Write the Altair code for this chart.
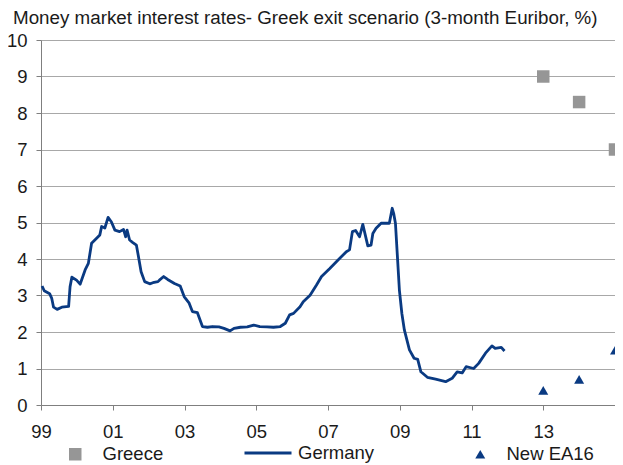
import altair as alt
import pandas as pd

title_text = "Money market interest rates- Greek exit scenario (3-month Euribor, %)"

# Germany 3-month rate (decimal year, %)
germany_t = [1999.03, 1999.09, 1999.24, 1999.30, 1999.35, 1999.45, 1999.58, 1999.77, 1999.81, 1999.86,
             1999.99, 2000.09, 2000.23, 2000.32, 2000.41, 2000.55, 2000.64, 2000.69, 2000.78, 2000.87,
             2000.96, 2001.06, 2001.19, 2001.30, 2001.36, 2001.40, 2001.47, 2001.56, 2001.66, 2001.70,
             2001.79, 2001.89, 2002.03, 2002.12, 2002.26, 2002.30, 2002.42, 2002.53, 2002.72, 2002.88,
             2002.99, 2003.13, 2003.22, 2003.36, 2003.50, 2003.64, 2003.78, 2003.96, 2004.10, 2004.27,
             2004.38, 2004.56, 2004.75, 2004.93, 2005.10, 2005.30, 2005.48, 2005.67, 2005.81, 2005.93,
             2006.04, 2006.22, 2006.31, 2006.50, 2006.68, 2006.82, 2007.05, 2007.28, 2007.51, 2007.60,
             2007.68, 2007.77, 2007.88, 2007.97, 2008.11, 2008.20, 2008.25, 2008.34, 2008.48, 2008.71,
             2008.79, 2008.83, 2008.88, 2008.99, 2009.06, 2009.13, 2009.27, 2009.40, 2009.50, 2009.59,
             2009.77, 2010.00, 2010.28, 2010.46, 2010.60, 2010.74, 2010.85, 2011.06, 2011.20, 2011.39,
             2011.57, 2011.66, 2011.83, 2011.92]
germany_v = [3.26, 3.13, 3.05, 2.92, 2.68, 2.62, 2.68, 2.70, 3.24, 3.50,
             3.42, 3.31, 3.70, 3.88, 4.43, 4.57, 4.66, 4.89, 4.85, 5.14,
             5.02, 4.79, 4.75, 4.81, 4.61, 4.79, 4.52, 4.45, 4.38, 4.16,
             3.65, 3.38, 3.32, 3.35, 3.38, 3.42, 3.52, 3.44, 3.33, 3.26,
             2.97, 2.79, 2.56, 2.53, 2.15, 2.13, 2.15, 2.14, 2.10, 2.03,
             2.10, 2.13, 2.14, 2.19, 2.15, 2.14, 2.13, 2.15, 2.24, 2.47,
             2.51, 2.69, 2.83, 3.01, 3.29, 3.52, 3.74, 3.97, 4.20, 4.25,
             4.75, 4.78, 4.61, 4.95, 4.36, 4.38, 4.70, 4.84, 4.98, 4.98,
             5.39, 5.25, 4.98, 3.15, 2.50, 2.05, 1.51, 1.28, 1.25, 0.91,
             0.76, 0.71, 0.64, 0.73, 0.91, 0.88, 1.05, 1.00, 1.14, 1.42,
             1.62, 1.55, 1.58, 1.48]

scenario_years = [2013, 2014, 2015]
greece_v = [9.0, 8.3, 7.0]
ea16_v = [0.4, 0.7, 1.5]

x_tick_values = [1999, 2001, 2003, 2005, 2007, 2009, 2011, 2013]
x_tick_labels = ["99", "01", "03", "05", "07", "09", "11", "13"]
y_tick_values = [0, 1, 2, 3, 4, 5, 6, 7, 8, 9, 10]

navy = "#0a3a82"
grey = "#969696"
font = "Liberation Sans"
fs = 18.5

label_expr = "''"
for v, l in reversed(list(zip(x_tick_values, x_tick_labels))):
    label_expr = f"datum.value == {v} ? '{l}' : ({label_expr})"

df_de = pd.DataFrame({"t": germany_t, "v": germany_v, "s": "Germany"})
df_gr = pd.DataFrame({"t": scenario_years, "v": greece_v, "s": "Greece"})
df_ea = pd.DataFrame({"t": scenario_years, "v": ea16_v, "s": "New EA16"})

x_axis = alt.Axis(values=x_tick_values, labelExpr=label_expr, grid=False, title=None,
                  tickSize=5, labelPadding=12, labelFontSize=fs, labelFont=font,
                  labelColor="#1a1a1a", domainColor="#7f7f7f", tickColor="#7f7f7f",
                  labelFlush=False, labelOverlap=False)
y_axis = alt.Axis(values=y_tick_values, tickCount=11, grid=True, gridColor="#a8a8a8", title=None,
                  tickSize=5, labelPadding=9, labelFontSize=fs, labelFont=font,
                  labelColor="#1a1a1a", domainColor="#7f7f7f", tickColor="#7f7f7f",
                  labelFlush=False, labelOverlap=False)
x_scale = alt.Scale(domain=[1999, 2015], nice=False, zero=False)
y_scale = alt.Scale(domain=[0, 10], nice=False)


def xe():
    return alt.X("t:Q", scale=x_scale, axis=x_axis)


def ye():
    return alt.Y("v:Q", scale=y_scale, axis=y_axis)


leg_common = dict(title=None, orient="none", labelFontSize=fs, labelFont=font,
                  labelColor="#1a1a1a", padding=0)

line = alt.Chart(df_de).mark_line(strokeWidth=2.8, strokeJoin="round").encode(
    x=xe(), y=ye(),
    stroke=alt.Stroke("s:N", scale=alt.Scale(domain=["Germany"], range=[navy]),
                      legend=alt.Legend(legendX=202, legendY=388,
                                        symbolType="stroke", symbolSize=2209, symbolStrokeWidth=2.8,
                                        labelOffset=5, **leg_common)),
)

greece = alt.Chart(df_gr).mark_square(size=156, opacity=1, filled=True).encode(
    x=xe(), y=ye(),
    color=alt.Color("s:N", scale=alt.Scale(domain=["Greece"], range=[grey]),
                    legend=alt.Legend(legendX=25, legendY=405,
                                      symbolType="square", symbolSize=156, symbolOpacity=1,
                                      labelOffset=18, **leg_common)),
)

ea16 = alt.Chart(df_ea).mark_point(filled=True, size=100, opacity=1, color=navy).encode(
    x=xe(), y=ye(),
    shape=alt.Shape("s:N", scale=alt.Scale(domain=["New EA16"], range=["triangle-up"]),
                    legend=alt.Legend(legendX=430, legendY=405,
                                      symbolSize=100, symbolFillColor=navy, symbolStrokeColor=navy,
                                      symbolOpacity=1, labelOffset=17, **leg_common)),
)

chart = alt.layer(line, greece, ea16).properties(
    width=574, height=365,
    autosize="none",
    padding={"left": 33, "top": 32, "right": 0, "bottom": 60},
    title=alt.TitleParams(title_text, anchor="start", frame="group", dx=-28, offset=3,
                          fontSize=18.8, font=font, fontWeight="normal", color="#1a1a1a"),
).configure_view(stroke=None).configure_axis(domainWidth=1, tickWidth=1, gridWidth=1)

chart.save("out.html", embed_options={"renderer": "svg", "actions": False})
